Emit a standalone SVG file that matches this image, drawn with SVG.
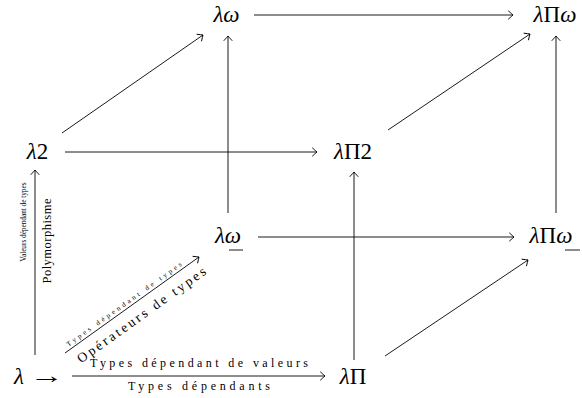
<svg xmlns="http://www.w3.org/2000/svg" width="582" height="398" viewBox="0 0 582 398">
<defs>
<marker id="to" viewBox="-6 -5 8 10" markerWidth="8" markerHeight="10" refX="0" refY="0" orient="auto" markerUnits="userSpaceOnUse">
<path d="M -4.5,-4 Q -1.2,-1 0,0 Q -1.2,1 -4.5,4" fill="none" stroke="#000" stroke-width="0.9" stroke-linecap="round"/>
</marker>
</defs>
<style>
.n{font-family:"Liberation Serif","DejaVu Serif",serif;font-size:23px;fill:#000;text-anchor:middle}
.i{font-style:italic}
.l{font-family:"Liberation Serif","DejaVu Serif",serif;fill:#000;text-anchor:middle}
.e{fill:none;stroke:#000;stroke-width:0.9;marker-end:url(#to)}
</style>
<g id="connectors">
<line class="e" x1="254" y1="15" x2="513" y2="15"/>
<line class="e" x1="65" y1="152" x2="317" y2="152"/>
<line class="e" x1="258" y1="237" x2="514" y2="237"/>
<line class="e" x1="228" y1="213" x2="228" y2="36"/>
<line class="e" x1="556" y1="213" x2="556" y2="36"/>
<line class="e" x1="354" y1="360" x2="354" y2="172"/>
<line class="e" x1="35" y1="355" x2="35" y2="170"/>
<line class="e" x1="62" y1="133" x2="203" y2="35"/>
<line class="e" x1="388" y1="130" x2="530" y2="34"/>
<line class="e" x1="385" y1="356" x2="528" y2="260"/>
<line class="e" x1="65" y1="353" x2="199" y2="257"/>
<line class="e" x1="72" y1="376" x2="325" y2="376"/>
</g>
<g id="labels">
<text class="l" x="199" y="367" font-size="12" textLength="218" lengthAdjust="spacing">Types dépendant de valeurs</text>
<text class="l" x="199" y="390" font-size="12" textLength="142" lengthAdjust="spacing">Types dépendants</text>
<text class="l" transform="translate(26,222) rotate(-90)" font-size="8" textLength="79" lengthAdjust="spacingAndGlyphs">Valeurs dépendant de types</text>
<text class="l" transform="translate(51,241) rotate(-90)" font-size="12.5" textLength="85" lengthAdjust="spacing">Polymorphisme</text>
<g transform="translate(132,305) rotate(-35.6)">
<text class="l" x="-6" y="-3" font-size="7" textLength="140" lengthAdjust="spacing">Types dépendant de types</text>
<text class="l" x="2" y="18" font-size="13.5" textLength="155" lengthAdjust="spacing">Opérateurs de types</text>
</g>
</g>
<g id="lw"><text class="n" x="226.5" y="22"><tspan class="i">λω</tspan></text></g>
<g id="lPw"><text class="n" x="555" y="22"><tspan class="i">λ</tspan>Π<tspan class="i">ω</tspan></text></g>
<g id="l2"><text class="n" x="37.5" y="159"><tspan class="i">λ</tspan>2</text></g>
<g id="lP2"><text class="n" x="353" y="159"><tspan class="i">λ</tspan>Π2</text></g>
<g id="lwu"><text class="n" x="228" y="243"><tspan class="i">λω</tspan></text><line x1="229" y1="250" x2="243" y2="250" stroke="#000" stroke-width="0.9"/></g>
<g id="lPwu"><text class="n" x="551" y="243"><tspan class="i">λ</tspan>Π<tspan class="i">ω</tspan></text><line x1="565" y1="250" x2="580" y2="250" stroke="#000" stroke-width="0.9"/></g>
<g id="lP"><text class="n" x="353" y="384"><tspan class="i">λ</tspan>Π</text></g>
<g id="l"><text class="n" x="19" y="384"><tspan class="i">λ</tspan></text><text class="n" transform="translate(47,383) scale(1.5,1)" x="0" y="0">→</text></g>
</svg>
